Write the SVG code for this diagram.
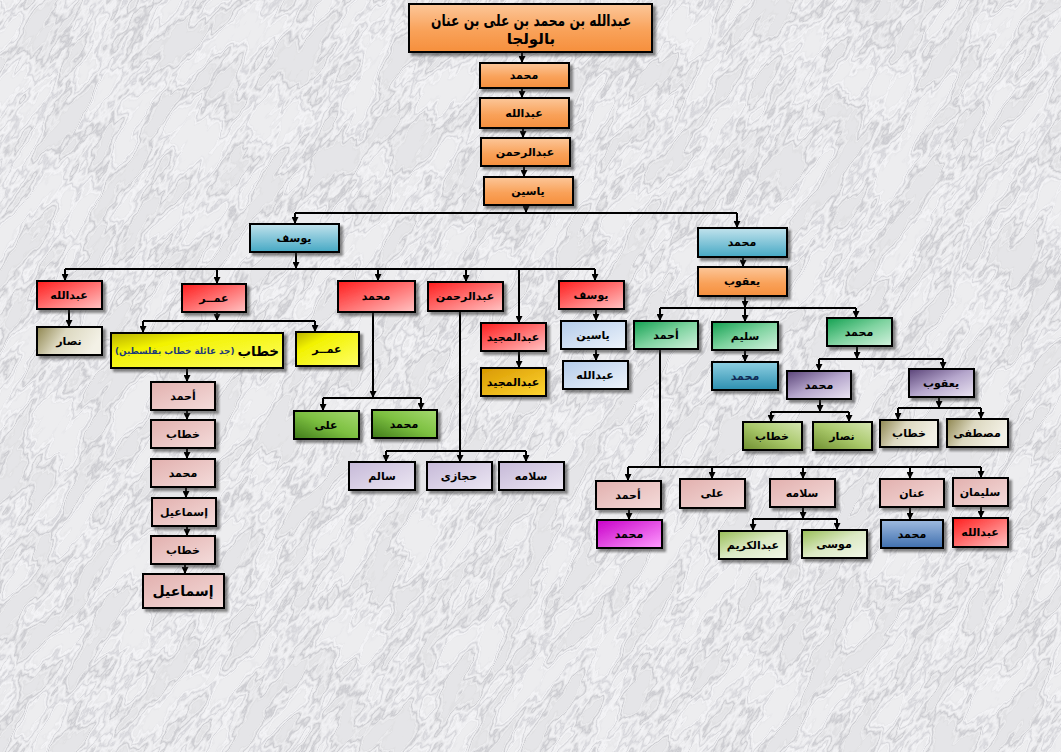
<svg xmlns="http://www.w3.org/2000/svg" width="1061" height="752" viewBox="0 0 1061 752">
<style>
.node rect{stroke:#000;stroke-width:2;filter:url(#shadow)}
.node text{font-family:"DejaVu Sans","Noto Sans",sans-serif;font-weight:bold;font-size:11px;fill:#000;text-anchor:middle;dominant-baseline:central}
.conn path{fill:none;stroke:#000;stroke-width:2}
.conn .a{marker-end:url(#arr)}
.orange rect{fill:url(#gOrange)}
.blue rect{fill:url(#gBlue)}
.red rect{fill:url(#gRed)}
.tan rect{fill:url(#gTan)}
.yellow rect{fill:url(#gYellow)}
.pink rect{fill:url(#gPink)}
.lime rect{fill:url(#gLime)}
.lav rect{fill:url(#gLav)}
.gold rect{fill:url(#gGold)}
.lblue rect{fill:url(#gLBlue)}
.mint rect{fill:url(#gMint)}
.teal rect{fill:url(#gTeal)}
.purple rect{fill:url(#gPurple)}
.olive rect{fill:url(#gOlive)}
.magenta rect{fill:url(#gMagenta)}
.lgreen rect{fill:url(#gLGreen)}
.steel rect{fill:url(#gSteel)}
</style>
<defs>
<filter id="marble" x="0" y="0" width="1" height="1" color-interpolation-filters="sRGB">
<feTurbulence type="fractalNoise" baseFrequency="0.016 0.05" numOctaves="5" seed="4"/>
<feColorMatrix type="matrix" values="3 0 0 0 -1  3 0 0 0 -1  3 0 0 0 -1  0 0 0 0 1"/>
<feComponentTransfer>
<feFuncR type="table" tableValues="0.9 0.88 0.93 0.89 0.8 0.9 0.95 0.92 0.84 0.93 0.96 0.91 0.93"/>
<feFuncG type="table" tableValues="0.9 0.88 0.93 0.89 0.8 0.9 0.95 0.92 0.84 0.93 0.96 0.91 0.93"/>
<feFuncB type="table" tableValues="0.91 0.89 0.94 0.9 0.82 0.91 0.96 0.93 0.86 0.94 0.97 0.92 0.94"/>
</feComponentTransfer>
</filter>
<filter id="shadow" x="-10%" y="-20%" width="130%" height="160%">
<feDropShadow dx="3" dy="3" stdDeviation="1.2" flood-color="#333" flood-opacity="0.55"/>
</filter>
<marker id="arr" viewBox="0 0 10 10" refX="10" refY="5" markerWidth="7" markerHeight="7" markerUnits="userSpaceOnUse" orient="auto">
<path d="M0,0 L10,5 L0,10 z" fill="#000"/>
</marker>
<linearGradient id="gOrange" x1="0" y1="0" x2="0" y2="1"><stop offset="0" stop-color="#fcc79a"/><stop offset="0.55" stop-color="#f9a25a"/><stop offset="1" stop-color="#f68f3c"/></linearGradient>
<linearGradient id="gBlue" x1="0" y1="0" x2="0" y2="1"><stop offset="0" stop-color="#c2e3ed"/><stop offset="1" stop-color="#45a8c4"/></linearGradient>
<linearGradient id="gRed" x1="0" y1="0" x2="1" y2="1"><stop offset="0" stop-color="#ff1c1c"/><stop offset="1" stop-color="#ffc4c4"/></linearGradient>
<linearGradient id="gTan" x1="0" y1="0" x2="1" y2="0.3"><stop offset="0" stop-color="#8f8650"/><stop offset="0.45" stop-color="#dcd8c0"/><stop offset="1" stop-color="#f3f1e6"/></linearGradient>
<linearGradient id="gYellow" x1="0" y1="0" x2="1" y2="1"><stop offset="0" stop-color="#b8b000"/><stop offset="0.3" stop-color="#f2f200"/><stop offset="1" stop-color="#ffff66"/></linearGradient>
<linearGradient id="gPink" x1="0" y1="0" x2="1" y2="1"><stop offset="0" stop-color="#e2b0ae"/><stop offset="1" stop-color="#f4dcdb"/></linearGradient>
<linearGradient id="gLime" x1="0" y1="1" x2="1" y2="0"><stop offset="0" stop-color="#3f7a1a"/><stop offset="0.5" stop-color="#7cc040"/><stop offset="1" stop-color="#a6d970"/></linearGradient>
<linearGradient id="gLav" x1="0" y1="0" x2="1" y2="1"><stop offset="0" stop-color="#c6b9d8"/><stop offset="1" stop-color="#ece7f3"/></linearGradient>
<linearGradient id="gGold" x1="0" y1="0" x2="1" y2="1"><stop offset="0" stop-color="#d89800"/><stop offset="1" stop-color="#ffd633"/></linearGradient>
<linearGradient id="gLBlue" x1="0" y1="0" x2="1" y2="1"><stop offset="0" stop-color="#b3cbea"/><stop offset="1" stop-color="#eef4fb"/></linearGradient>
<linearGradient id="gMint" x1="0" y1="0" x2="1" y2="1"><stop offset="0" stop-color="#12a050"/><stop offset="0.5" stop-color="#7fd3a0"/><stop offset="1" stop-color="#d4f2df"/></linearGradient>
<linearGradient id="gTeal" x1="0" y1="0" x2="0" y2="1"><stop offset="0" stop-color="#8fd0e2"/><stop offset="1" stop-color="#2c8fb0"/></linearGradient>
<linearGradient id="gPurple" x1="0" y1="0" x2="1" y2="1"><stop offset="0" stop-color="#5a4378"/><stop offset="0.5" stop-color="#b5a6cc"/><stop offset="1" stop-color="#ebe5f2"/></linearGradient>
<linearGradient id="gOlive" x1="0" y1="1" x2="1" y2="0"><stop offset="0" stop-color="#6f8f30"/><stop offset="0.5" stop-color="#a9c86a"/><stop offset="1" stop-color="#d6e6b4"/></linearGradient>
<linearGradient id="gMagenta" x1="0" y1="0" x2="1" y2="1"><stop offset="0" stop-color="#c800c8"/><stop offset="1" stop-color="#ff9cff"/></linearGradient>
<linearGradient id="gLGreen" x1="0" y1="0" x2="1" y2="1"><stop offset="0" stop-color="#98bd55"/><stop offset="0.5" stop-color="#dbe9c4"/><stop offset="1" stop-color="#f3f8ea"/></linearGradient>
<linearGradient id="gSteel" x1="0" y1="0" x2="0" y2="1"><stop offset="0" stop-color="#9fbbe0"/><stop offset="1" stop-color="#3f6fae"/></linearGradient>
</defs>

<rect x="0" y="0" width="1061" height="752" fill="#e4e4e6"/>
<g transform="rotate(-55 530 376)">
<rect x="-400" y="-400" width="1860" height="1560" filter="url(#marble)"/>
</g>

<g class="conn" id="connectors">
<path class="a" d="M522 53 V63"/>
<path class="a" d="M522 88 V98"/>
<path class="a" d="M523 128 V138"/>
<path class="a" d="M524 166 V177"/>
<path class="a" d="M526 205 V213"/>
<path d="M295 213 H737"/>
<path class="a" d="M295 213 V224"/>
<path class="a" d="M737 213 V228"/>
<path class="a" d="M296 252 V269"/>
<path d="M65 269 H595"/>
<path class="a" d="M65 269 V281"/>
<path class="a" d="M217 269 V284"/>
<path class="a" d="M378 269 V281"/>
<path class="a" d="M466 269 V282"/>
<path class="a" d="M519 269 V323"/>
<path class="a" d="M595 269 V281"/>
<path class="a" d="M69 309 V327"/>
<path class="a" d="M217 312 V321"/>
<path d="M143 321 H315"/>
<path class="a" d="M143 321 V333"/>
<path class="a" d="M315 321 V332"/>
<path class="a" d="M187 368 V382"/>
<path class="a" d="M187 410 V420"/>
<path class="a" d="M187 448 V459"/>
<path class="a" d="M186 487 V498"/>
<path class="a" d="M187 526 V536"/>
<path class="a" d="M185 564 V574"/>
<path class="a" d="M373 312 V398"/>
<path d="M323 398 H421"/>
<path class="a" d="M323 398 V411"/>
<path class="a" d="M421 398 V410"/>
<path d="M460 311 V451"/>
<path d="M386 451 H526"/>
<path class="a" d="M386 451 V462"/>
<path class="a" d="M460 451 V462"/>
<path class="a" d="M526 451 V462"/>
<path class="a" d="M519 351 V368"/>
<path class="a" d="M596 309 V321"/>
<path class="a" d="M596 349 V361"/>
<path class="a" d="M743 257 V267"/>
<path class="a" d="M745 296 V308"/>
<path d="M660 308 H856"/>
<path class="a" d="M660 308 V321"/>
<path class="a" d="M745 308 V322"/>
<path class="a" d="M856 308 V318"/>
<path class="a" d="M745 350 V362"/>
<path class="a" d="M857 346 V359"/>
<path d="M819 359 H943"/>
<path class="a" d="M819 359 V371"/>
<path class="a" d="M943 359 V369"/>
<path class="a" d="M820 399 V412"/>
<path d="M771 412 H849"/>
<path class="a" d="M771 412 V422"/>
<path class="a" d="M849 412 V422"/>
<path class="a" d="M939 397 V408"/>
<path d="M898 408 H981"/>
<path class="a" d="M898 408 V420"/>
<path class="a" d="M981 408 V419"/>
<path d="M660 349 V467"/>
<path d="M628 467 H981"/>
<path class="a" d="M628 467 V481"/>
<path class="a" d="M712 467 V479"/>
<path class="a" d="M803 467 V479"/>
<path class="a" d="M910 467 V479"/>
<path class="a" d="M981 467 V478"/>
<path class="a" d="M629 509 V520"/>
<path class="a" d="M803 507 V519"/>
<path d="M753 519 H837"/>
<path class="a" d="M753 519 V531"/>
<path class="a" d="M837 519 V530"/>
<path class="a" d="M910 507 V520"/>
<path class="a" d="M981 506 V518"/>
</g>

<g id="n-root" class="node orange"><rect x="409" y="4" width="243" height="48"/>
<text x="531" y="20" textLength="200" lengthAdjust="spacingAndGlyphs" style="font-size:16px">عبدالله بن محمد بن على بن عنان</text>
<text x="531" y="39" style="font-size:15px">بالولجا</text></g>
<g id="n-muhammad1" class="node orange"><rect x="480" y="63" width="89" height="25"/><text x="524" y="75.5">محمد</text></g>
<g id="n-abdullah1" class="node orange"><rect x="480" y="98" width="89" height="30"/><text x="524" y="113">عبدالله</text></g>
<g id="n-abdulrahman1" class="node orange"><rect x="481" y="138" width="89" height="28"/><text x="525" y="152">عبدالرحمن</text></g>
<g id="n-yasin1" class="node orange"><rect x="484" y="177" width="89" height="28"/><text x="528" y="191">ياسين</text></g>

<g id="n-yusuf1" class="node blue"><rect x="250" y="224" width="89" height="28"/><text x="294" y="238">يوسف</text></g>
<g id="n-muhammad2" class="node blue"><rect x="698" y="228" width="89" height="29"/><text x="742" y="242.5">محمد</text></g>
<g id="n-yaqub1" class="node orange"><rect x="698" y="267" width="89" height="29"/><text x="742" y="281.5">يعقوب</text></g>

<g id="n-abdullah2" class="node red"><rect x="37" y="281" width="65" height="28"/><text x="69" y="295">عبدالله</text></g>
<g id="n-umar1" class="node red"><rect x="182" y="284" width="64" height="28"/><text x="214" y="298">عمــر</text></g>
<g id="n-muhammad3" class="node red"><rect x="338" y="281" width="77" height="31"/><text x="376" y="296.5">محمد</text></g>
<g id="n-abdulrahman2" class="node red"><rect x="428" y="282" width="75" height="29"/><text x="465" y="296.5">عبدالرحمن</text></g>
<g id="n-yusuf2" class="node red"><rect x="559" y="281" width="65" height="28"/><text x="591" y="295">يوسف</text></g>
<g id="n-abdulmajid1" class="node red"><rect x="481" y="323" width="65" height="28"/><text x="513" y="337">عبدالمجيد</text></g>
<g id="n-abdulmajid2" class="node gold"><rect x="481" y="368" width="65" height="28"/><text x="513" y="382">عبدالمجيد</text></g>

<g id="n-nassar1" class="node tan"><rect x="37" y="327" width="65" height="28"/><text x="69" y="341">نصار</text></g>
<g id="n-khattab1" class="node yellow"><rect x="111" y="333" width="172" height="35"/>
<text x="197" y="350.5" direction="rtl"><tspan style="font-size:13.5px">خطاب</tspan><tspan style="font-size:8.8px;fill:#1c3a78"> (جد عائلة خطاب بفلسطين)</tspan></text></g>
<g id="n-umar2" class="node yellow"><rect x="296" y="332" width="63" height="34"/><text x="327" y="349">عمــر</text></g>

<g id="n-ahmad1" class="node pink"><rect x="151" y="382" width="64" height="28"/><text x="183" y="396">أحمد</text></g>
<g id="n-khattab2" class="node pink"><rect x="151" y="420" width="64" height="28"/><text x="183" y="434">خطاب</text></g>
<g id="n-muhammad4" class="node pink"><rect x="151" y="459" width="64" height="28"/><text x="183" y="473">محمد</text></g>
<g id="n-ismail1" class="node pink"><rect x="152" y="498" width="64" height="28"/><text x="184" y="512">إسماعيل</text></g>
<g id="n-khattab3" class="node pink"><rect x="151" y="536" width="64" height="28"/><text x="183" y="550">خطاب</text></g>
<g id="n-ismail2" class="node pink"><rect x="143" y="574" width="81" height="34"/><text x="183" y="591" style="font-size:14px">إسماعيل</text></g>

<g id="n-ali1" class="node lime"><rect x="294" y="411" width="65" height="28"/><text x="326" y="425">على</text></g>
<g id="n-muhammad5" class="node lime"><rect x="372" y="410" width="65" height="28"/><text x="404" y="424">محمد</text></g>

<g id="n-salim1" class="node lav"><rect x="349" y="462" width="66" height="28"/><text x="382" y="476">سالم</text></g>
<g id="n-hijazi" class="node lav"><rect x="427" y="462" width="65" height="28"/><text x="459" y="476">حجازى</text></g>
<g id="n-salama1" class="node lav"><rect x="499" y="462" width="65" height="28"/><text x="531" y="476">سلامه</text></g>

<g id="n-yasin2" class="node lblue"><rect x="561" y="321" width="65" height="28"/><text x="593" y="335">ياسين</text></g>
<g id="n-abdullah3" class="node lblue"><rect x="563" y="361" width="65" height="28"/><text x="595" y="375">عبدالله</text></g>

<g id="n-ahmad2" class="node mint"><rect x="634" y="321" width="64" height="28"/><text x="666" y="335">أحمد</text></g>
<g id="n-salim2" class="node mint"><rect x="712" y="322" width="66" height="28"/><text x="745" y="336">سليم</text></g>
<g id="n-muhammad6" class="node mint"><rect x="827" y="318" width="65" height="28"/><text x="859" y="332">محمد</text></g>
<g id="n-muhammad7" class="node teal"><rect x="712" y="362" width="66" height="28"/><text x="745" y="376" style="fill:#0f2a55">محمد</text></g>

<g id="n-muhammad8" class="node purple"><rect x="787" y="371" width="64" height="28"/><text x="819" y="385">محمد</text></g>
<g id="n-yaqub2" class="node purple"><rect x="909" y="369" width="65" height="28"/><text x="941" y="383">يعقوب</text></g>

<g id="n-khattab4" class="node olive"><rect x="743" y="422" width="59" height="28"/><text x="772" y="436">خطاب</text></g>
<g id="n-nassar2" class="node olive"><rect x="813" y="422" width="59" height="28"/><text x="842" y="436">نصار</text></g>
<g id="n-khattab5" class="node tan"><rect x="880" y="420" width="58" height="27"/><text x="909" y="433.5">خطاب</text></g>
<g id="n-mustafa" class="node tan"><rect x="947" y="419" width="61" height="28"/><text x="977" y="433">مصطفى</text></g>

<g id="n-ahmad3" class="node pink"><rect x="596" y="481" width="65" height="28"/><text x="628" y="495">أحمد</text></g>
<g id="n-ali2" class="node pink"><rect x="680" y="479" width="65" height="29"/><text x="712" y="493.5">على</text></g>
<g id="n-salama2" class="node pink"><rect x="770" y="479" width="65" height="28"/><text x="802" y="493">سلامه</text></g>
<g id="n-anan" class="node pink"><rect x="880" y="479" width="64" height="28"/><text x="912" y="493">عنان</text></g>
<g id="n-sulayman" class="node pink"><rect x="953" y="478" width="55" height="28"/><text x="980" y="492">سليمان</text></g>

<g id="n-muhammad9" class="node magenta"><rect x="597" y="520" width="65" height="28"/><text x="629" y="534">محمد</text></g>
<g id="n-abdulkarim" class="node lgreen"><rect x="719" y="531" width="68" height="28"/><text x="753" y="545">عبدالكريم</text></g>
<g id="n-musa" class="node lgreen"><rect x="802" y="530" width="65" height="28"/><text x="834" y="544">موسى</text></g>
<g id="n-muhammad10" class="node steel"><rect x="881" y="520" width="62" height="28"/><text x="912" y="534">محمد</text></g>
<g id="n-abdullah4" class="node red"><rect x="953" y="518" width="55" height="29"/><text x="980" y="532.5">عبدالله</text></g>
</svg>
